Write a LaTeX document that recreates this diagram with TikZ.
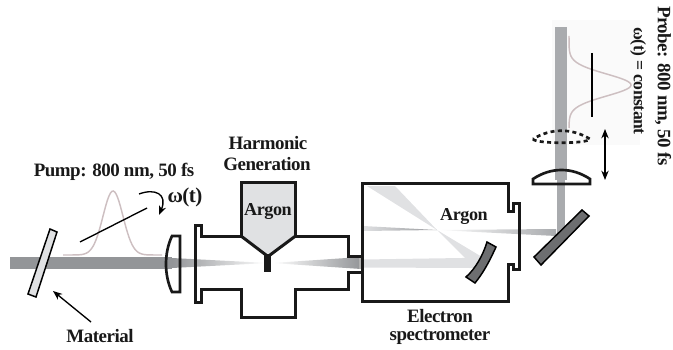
\documentclass[tikz,border=0pt]{standalone}
\usepackage{fontspec}
\setmainfont{Liberation Serif}
\usetikzlibrary{arrows.meta}
\definecolor{beamdk}{HTML}{939598}
\definecolor{beammd}{HTML}{A9ABAE}
\definecolor{beamlt}{HTML}{E0E1E3}
\definecolor{pulsecol}{HTML}{CDBFC1}
\definecolor{mirrorcol}{HTML}{6D6E70}
\newcommand{\tightbold}[1]{\fontsize{#1}{16}\selectfont\bfseries\addfontfeature{LetterSpace=-2.5}}
\tikzset{
  wall/.style={draw=black!90,line width=2.25pt,line join=miter},
  thin wall/.style={draw=black,line width=1.1pt},
  pulse/.style={draw=pulsecol,line width=1.1pt},
  pointer/.style={draw=black,line width=1pt},
  tip/.style={-{Stealth[length=7pt,width=5.5pt]}},
  twotip/.style={{Stealth[length=7pt,width=5.5pt]}-{Stealth[length=7pt,width=5.5pt]}},
  lbl/.style={font=\tightbold{14.2},inner sep=0pt,text=black!90},
  lblsmall/.style={lbl,font=\tightbold{13.2}},
  lblargon/.style={lbl,font=\tightbold{13.6}},
  lblbig/.style={lbl,font=\tightbold{15.8}}
}
\begin{document}
\begin{tikzpicture}[x=0.75pt,y=-0.75pt]
\useasboundingbox (0,0) rectangle (673,349);
% faint backdrop of the probe pulse
\fill[black!2] (552,20) rectangle (640,145);
% funnel fill
\fill[beamlt] (241,182) -- (295,182) -- (295,236) -- (268,256) -- (241,236) -- cycle;
% beams
\fill[beamdk] (10,257) rectangle (172,269);
\shade[left color=beamdk,right color=white] (172,258) -- (268,263) -- (172,268) -- cycle;
\shade[left color=white,right color=beamdk] (272,263) -- (361,257) -- (361,269) -- cycle;
% electron beams
\fill[beamlt] (363,259.5) -- (462,258) -- (482,257) -- (475,268) -- (470,268) -- (363,267.5) -- cycle;
\fill[beamlt] (367,186) -- (395,186) -- (437,230) -- (482,257) -- (475,268) -- (437,230) -- cycle;
% probe beam
\fill[beammd] (555,27) rectangle (567,180);
\fill[beammd] (557,180) rectangle (565,233);
\shade[left color=beamlt,right color=beammd!90!black] (363,226) -- (437,230) -- (363,231) -- cycle;
\shade[left color=white,right color=beammd] (437,230) -- (556,229) -- (556,236) -- cycle;
\fill[black!30] (359,257) rectangle (364,269);
% chambers
\draw[wall] (361,256) -- (348,256) -- (348,236.5) -- (295.5,236.5) -- (295.5,182) -- (241,182) -- (241,236.5) -- (201.5,236.5) -- (201.5,225) -- (195.5,225) -- (195.5,302) -- (201.5,302) -- (201.5,289) -- (241,289) -- (241,317) -- (295.5,317) -- (295.5,289) -- (348,289) -- (348,272) -- (361,272);
\draw[wall] (241,236) -- (266,255) (295.5,236) -- (270,255);
\fill[black!90] (264,254) rectangle (271,272);
\draw[wall] (508,183) -- (508,211) -- (513,211) -- (513,203) -- (519,203) -- (519,269) -- (513,269) -- (513,264) -- (508,264) -- (508,301) -- (362,301) -- (362,183) -- cycle;
% lenses and mirrors
\draw[wall,line width=2pt] (172,236) -- (180,236) -- (180,292) -- (172,292) .. controls (164,275) and (164,253) .. (172,236) -- cycle;
\draw[wall,line width=2pt] (533,184) -- (590,184) -- (590,179) .. controls (572,167) and (551,167) .. (533,179) -- cycle;
\draw[wall,line width=2pt,dash pattern=on 3pt off 2.5pt] (533,139) .. controls (535,144) and (588,144) .. (590,139) .. controls (572,128) and (551,128) .. (533,139);
\draw[thin wall,fill=beamlt] (50,229) -- (57,232) -- (36,297) -- (28,294) -- cycle;
\draw[thin wall,fill=mirrorcol] (582,210) -- (589,216) -- (541,265) -- (534,257) -- cycle;
\draw[thin wall,fill=mirrorcol] (487,242) -- (496,247) .. controls (490,260) and (484,272) .. (475,283) -- (466,277) .. controls (476,268) and (483,255) .. (487,242) -- cycle;
% pulses
\draw[pulse] plot[domain=63:162,samples=70] ({\x},{255-64*exp(-(\x-113)*(\x-113)/200)});
\draw[pulse] plot[domain=36:128,samples=70] ({569+62*exp(-(\x-85)*(\x-85)/242)},{\x});
% pointers
\coordinate (chirpA) at (80,242);
\coordinate (chirpB) at (147,208);
\coordinate (chirpC) at (139,194);
\coordinate (chirpD) at (159,215);
\coordinate (matA) at (91,322);
\coordinate (matB) at (53,291);
\coordinate (probeA) at (592,53);
\coordinate (probeB) at (592,117);
\coordinate (moveA) at (605,129);
\coordinate (moveB) at (605,180);
\draw[pointer] (chirpA) -- (chirpB);
\draw[pointer,tip] (chirpC) .. controls (155,188) and (168,194) .. (chirpD);
\draw[pointer,tip] (matA) -- (matB);
\draw[pointer] (probeA) -- (probeB);
\draw[pointer,twotip] (moveA) -- (moveB);
% labels
\node[lbl] (pump) at (114,172) {Pump: 800 nm, 50 fs};
\node[lblbig] (omega) at (185,197) {ω(t)};
\node[lbl] (material) at (100,336) {Material};
\node[lbl] (harm) at (268,143) {Harmonic};
\node[lbl] (gen) at (267,164) {Generation};
\node[lblargon] (argA) at (268,212) {Argon};
\node[lblargon] (argB) at (464,217) {Argon};
\node[lbl] (elec) at (440,316) {Electron};
\node[lbl] (spec) at (440,337) {spectrometer};
\node[lbl,rotate=-90] (probe) at (663,86) {Probe: 800 nm, 50 fs};
\node[lblsmall,rotate=-90] (const) at (638,81) {ω(t) = constant};
\end{tikzpicture}
\end{document}
